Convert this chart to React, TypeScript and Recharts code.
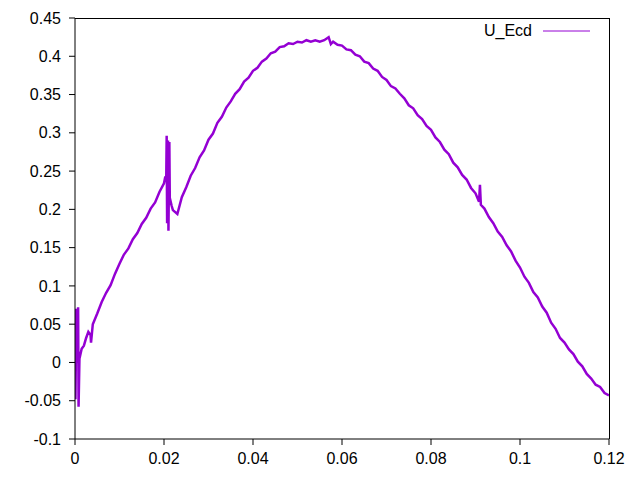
import { LineChart, Line, XAxis, YAxis, Legend } from "recharts";

const xValues = [
  0, 0.0001, 0.0003, 0.0005, 0.0007, 0.0008, 0.001, 0.0015, 0.002, 0.0025,
  0.003, 0.0035, 0.0036, 0.004, 0.005, 0.006, 0.007, 0.008, 0.009, 0.01,
  0.011, 0.012, 0.013, 0.014, 0.015, 0.016, 0.017, 0.018, 0.019, 0.02,
  0.0203, 0.0205, 0.0206, 0.0207, 0.0209, 0.021, 0.0212, 0.0213, 0.0217, 0.022,
  0.023, 0.024, 0.025, 0.026, 0.027, 0.028, 0.029, 0.03, 0.031, 0.032,
  0.033, 0.034, 0.035, 0.036, 0.037, 0.038, 0.039, 0.04, 0.041, 0.042,
  0.043, 0.044, 0.045, 0.046, 0.047, 0.048, 0.049, 0.05, 0.051, 0.052,
  0.053, 0.054, 0.055, 0.056, 0.057, 0.0575, 0.058, 0.059, 0.06, 0.061,
  0.062, 0.063, 0.064, 0.065, 0.066, 0.067, 0.068, 0.069, 0.07, 0.071,
  0.072, 0.073, 0.074, 0.075, 0.076, 0.077, 0.078, 0.079, 0.08, 0.081,
  0.082, 0.083, 0.084, 0.085, 0.086, 0.087, 0.088, 0.089, 0.09, 0.0908,
  0.091, 0.0912, 0.092, 0.093, 0.094, 0.095, 0.096, 0.097, 0.098, 0.099,
  0.1, 0.101, 0.102, 0.103, 0.104, 0.105, 0.106, 0.107, 0.108, 0.109,
  0.11, 0.111, 0.112, 0.113, 0.114, 0.115, 0.116, 0.117, 0.118, 0.119,
  0.12,
];
const uEcd = [
  0.07, -0.048, 0.07, 0.0, 0.072, -0.058, 0.005, 0.018, 0.022, 0.032,
  0.04, 0.036, 0.026, 0.05, 0.064, 0.079, 0.091, 0.101, 0.116, 0.129,
  0.141, 0.149, 0.161, 0.169, 0.181, 0.189, 0.201, 0.209, 0.223, 0.234,
  0.243, 0.238, 0.296, 0.182, 0.29, 0.172, 0.288, 0.215, 0.205, 0.199,
  0.194, 0.216, 0.229, 0.244, 0.254, 0.268, 0.277, 0.291, 0.299, 0.313,
  0.321, 0.333, 0.341, 0.351, 0.357, 0.367, 0.372, 0.381, 0.385, 0.393,
  0.397, 0.404, 0.406, 0.412, 0.413, 0.417, 0.416, 0.419, 0.418, 0.421,
  0.419, 0.421, 0.419, 0.421, 0.425, 0.416, 0.419, 0.415, 0.414, 0.409,
  0.408, 0.402, 0.4, 0.393, 0.391, 0.384, 0.381, 0.373, 0.369, 0.361,
  0.358, 0.351, 0.345, 0.336, 0.332, 0.323, 0.318, 0.309, 0.304, 0.294,
  0.288, 0.278, 0.272, 0.261, 0.255, 0.245, 0.239, 0.228, 0.221, 0.21,
  0.232, 0.206, 0.201, 0.19, 0.182, 0.171, 0.164, 0.153, 0.145, 0.133,
  0.124, 0.112, 0.104, 0.092, 0.085, 0.073, 0.065, 0.052, 0.044, 0.032,
  0.026, 0.017, 0.011, 0.001, -0.005, -0.015, -0.021, -0.029, -0.032, -0.04,
  -0.043,
];
const xTicks = [0, 0.02, 0.04, 0.06, 0.08, 0.1, 0.12];
const yTicks = [-0.1, -0.05, 0, 0.05, 0.1, 0.15, 0.2, 0.25, 0.3, 0.35, 0.4, 0.45];

const data = xValues.map((x, i) => ({ x, u: uEcd[i] }));

const FONT = "'Liberation Sans', Arial, sans-serif";
const tickStyle = { fontSize: 16, fill: "#000", fontFamily: FONT };
const LINE = "#9400d3";

const renderLegend = () => (
  <div style={{ display: "flex", alignItems: "center", justifyContent: "flex-end", fontFamily: FONT, fontSize: 16 }}>
    <span style={{ marginRight: 11 }}>U_Ecd</span>
    <svg width={47} height={4}>
      <line x1={0} y1={2} x2={47} y2={2} stroke={LINE} strokeWidth={1} />
    </svg>
  </div>
);

export default function App() {
  return (
    <div style={{ position: "fixed", left: 0, top: 0, width: 640, height: 480, background: "#fff" }}>
      <LineChart width={640} height={480} data={data} margin={{ top: 18, right: 31, bottom: 0, left: 0 }}>
        <XAxis
          dataKey="x"
          type="number"
          domain={[0, 0.12]}
          ticks={xTicks}
          tickFormatter={(v) => String(v)}
          tick={tickStyle}
          stroke="#000"
          tickSize={6}
          tickMargin={8}
          height={41}
          allowDataOverflow
        />
        <YAxis
          type="number"
          domain={[-0.1, 0.45]}
          ticks={yTicks}
          tickFormatter={(v) => String(v)}
          tick={tickStyle}
          stroke="#000"
          tickSize={6}
          tickMargin={8}
          width={75}
          allowDataOverflow
        />
        <Legend
          layout="vertical"
          align="center"
          verticalAlign="middle"
          content={renderLegend}
          wrapperStyle={{ position: "absolute", top: 22, left: 440, width: 150, height: 20 }}
        />
        <Line
          dataKey="u"
          type="linear"
          stroke={LINE}
          strokeWidth={2.5}
          dot={false}
          isAnimationActive={false}
        />
      </LineChart>
      {/* top and right edges of the gnuplot frame */}
      <div
        style={{
          position: "absolute",
          left: 75,
          top: 18,
          width: 535,
          height: 421,
          boxSizing: "border-box",
          borderTop: "1px solid #000",
          borderRight: "1px solid #000",
          pointerEvents: "none",
        }}
      />
    </div>
  );
}
